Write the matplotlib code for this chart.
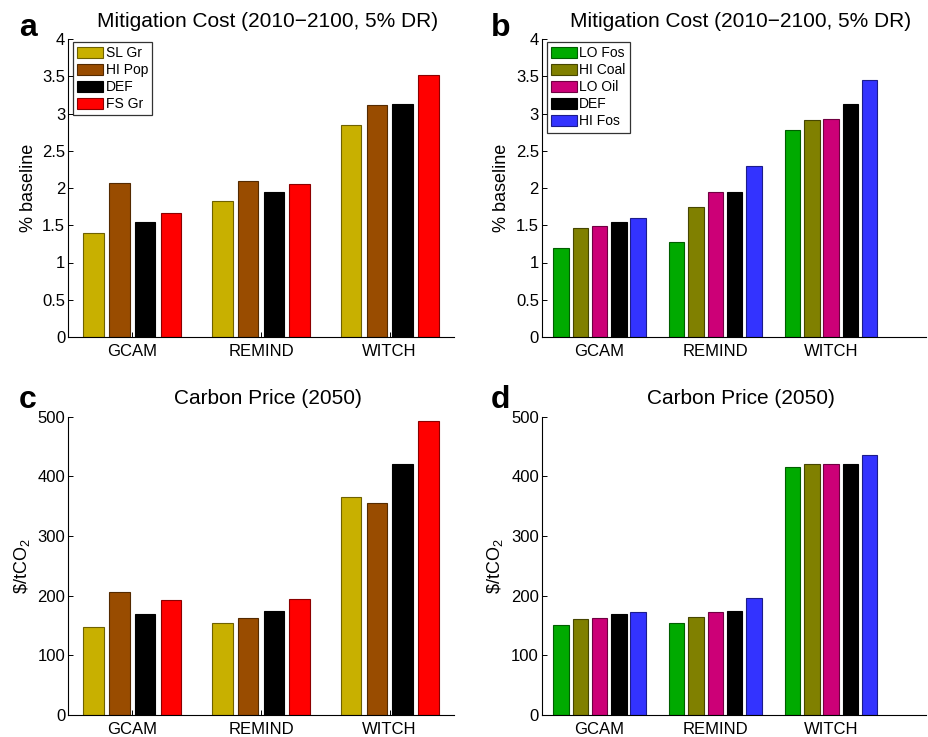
import matplotlib
matplotlib.use("Agg")
import matplotlib.pyplot as plt
import numpy as np
from matplotlib.colors import to_rgb

plt.rcParams['font.family'] = ['Liberation Sans', 'DejaVu Sans']
plt.rcParams['mathtext.fontset'] = 'custom'
plt.rcParams['mathtext.rm'] = 'Liberation Sans'
plt.rcParams['mathtext.it'] = 'Liberation Sans'
plt.rcParams['mathtext.default'] = 'regular'

models = ["GCAM", "REMIND", "WITCH"]

# Panel a/c series (growth / population)
series_ac = ["SL Gr", "HI Pop", "DEF", "FS Gr"]
colors_ac = ["#C8B000", "#994C00", "#000000", "#FF0000"]
cost_a = {
    "SL Gr": [1.40, 1.83, 2.85],
    "HI Pop": [2.07, 2.09, 3.12],
    "DEF": [1.55, 1.94, 3.13],
    "FS Gr": [1.66, 2.05, 3.52],
}
price_c = {
    "SL Gr": [147, 154, 366],
    "HI Pop": [207, 163, 356],
    "DEF": [169, 175, 420],
    "FS Gr": [193, 195, 493],
}

# Panel b/d series (fossil resources)
series_bd = ["LO Fos", "HI Coal", "LO Oil", "DEF", "HI Fos"]
colors_bd = ["#00AA00", "#808000", "#CC0077", "#000000", "#3333FF"]
cost_b = {
    "LO Fos": [1.19, 1.27, 2.78],
    "HI Coal": [1.46, 1.75, 2.91],
    "LO Oil": [1.49, 1.94, 2.93],
    "DEF": [1.55, 1.94, 3.13],
    "HI Fos": [1.60, 2.29, 3.45],
}
price_d = {
    "LO Fos": [151, 154, 416],
    "HI Coal": [161, 164, 420],
    "LO Oil": [163, 172, 421],
    "DEF": [169, 174, 420],
    "HI Fos": [173, 196, 436],
}

W, H = 929, 737
fig = plt.figure(figsize=(W / 100, H / 100), dpi=100)


def px_axes(l, t, r, b):
    return fig.add_axes([l / W, 1 - b / H, (r - l) / W, (b - t) / H])


def darker(c, f=0.55):
    r, g, b = to_rgb(c)
    return (r * f, g * f, b * f)


def draw(ax, data, series, colors, ylim, yticks, yticklabels, ylabel, title,
         xlim, legend):
    n = len(series)
    step = 1.0 / (n + 1)
    width = 0.8 * step
    x = np.arange(1, len(models) + 1)
    for i, (s, c) in enumerate(zip(series, colors)):
        off = (i - (n - 1) / 2) * step
        ax.bar(x + off, data[s], width, color=c, edgecolor=darker(c),
               linewidth=0.8, label=s, zorder=2)
    ax.set_xlim(*xlim)
    ax.set_ylim(*ylim)
    ax.set_xticks(x)
    ax.set_xticklabels(models, fontsize=12)
    ax.set_yticks(yticks)
    ax.set_yticklabels(yticklabels, fontsize=12)
    ax.tick_params(direction='in', length=3.5, width=0.7)
    ax.tick_params(axis='x', pad=5)
    ax.tick_params(axis='y', pad=2)
    for sp in ['top', 'right']:
        ax.spines[sp].set_visible(False)
    for sp in ['left', 'bottom']:
        ax.spines[sp].set_linewidth(0.8)
    ax.set_ylabel(ylabel, fontsize=13, labelpad=4)
    ax.set_title(title, fontsize=15, x=0.518, pad=9)
    if legend:
        lg = ax.legend(loc='upper left', bbox_to_anchor=(0.013, 0.99),
                       borderaxespad=0, fontsize=10, handlelength=1.85,
                       handleheight=0.9, handletextpad=0.2, labelspacing=0.22,
                       borderpad=0.3, fancybox=False, frameon=True)
        lg.get_frame().set_edgecolor('black')
        lg.get_frame().set_linewidth(0.9)


yt_cost = [0, 0.5, 1, 1.5, 2, 2.5, 3, 3.5, 4]
yl_cost = ["0", "0.5", "1", "1.5", "2", "2.5", "3", "3.5", "4"]
yt_price = [0, 100, 200, 300, 400, 500]
yl_price = [str(v) for v in yt_price]
price_label = r"\$/tCO$_2$"

ax_a = px_axes(68, 39, 454, 337)
draw(ax_a, cost_a, series_ac, colors_ac, (0, 4), yt_cost, yl_cost,
     "% baseline", "Mitigation Cost (2010\u22122100, 5% DR)", (0.5, 3.5), True)

ax_b = px_axes(541.7, 39, 926, 337)
draw(ax_b, cost_b, series_bd, colors_bd, (0, 4), yt_cost, yl_cost,
     "% baseline", "Mitigation Cost (2010\u22122100, 5% DR)", (0.5, 3.82), True)

ax_c = px_axes(68, 416.7, 454, 715)
draw(ax_c, price_c, series_ac, colors_ac, (0, 500), yt_price, yl_price,
     price_label, "Carbon Price (2050)", (0.5, 3.5), False)

ax_d = px_axes(541.7, 416.7, 926, 715)
draw(ax_d, price_d, series_bd, colors_bd, (0, 500), yt_price, yl_price,
     price_label, "Carbon Price (2050)", (0.5, 3.82), False)

for lbl, (xp, yp) in zip("abcd", [(19, 36), (491, 36), (19, 408), (491, 408)]):
    fig.text(xp / W, 1 - yp / H, lbl, fontsize=23, fontweight='bold',
             ha='left', va='baseline')

fig.savefig("out.png", dpi=100)
